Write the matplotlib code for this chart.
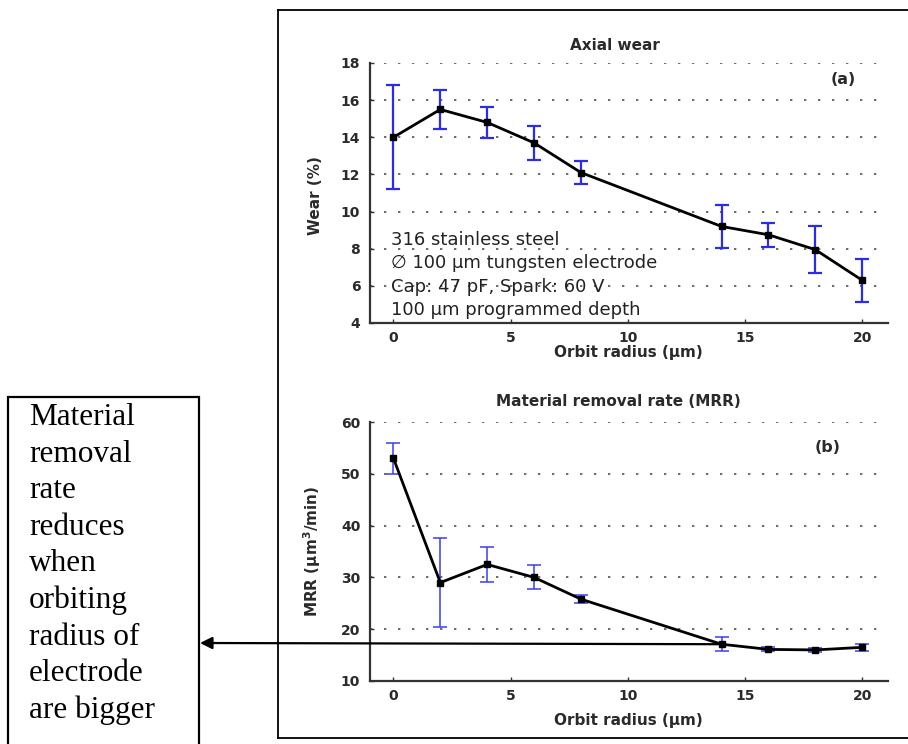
import numpy as np
import matplotlib
matplotlib.use('Agg')
import matplotlib.pyplot as plt
from matplotlib.lines import Line2D
from matplotlib.patches import Rectangle

plt.rcParams['font.family'] = ['DejaVu Sans']

# orbit radius (um) and measured values with error bars
radius = [0, 2, 4, 6, 8, 14, 16, 18, 20]
wear = [14.0, 15.5, 14.8, 13.7, 12.1, 9.2, 8.75, 7.95, 6.3]
wear_err = [2.8, 1.05, 0.85, 0.9, 0.6, 1.15, 0.65, 1.25, 1.17]
mrr = [53.0, 29.0, 32.5, 30.0, 25.8, 17.1, 16.1, 16.0, 16.5]
mrr_err = [3.0, 8.6, 3.3, 2.3, 0.8, 1.3, 0.4, 0.4, 0.7]

x_ticks = [0, 5, 10, 15, 20]
wear_ticks = [4, 6, 8, 10, 12, 14, 16, 18]
mrr_ticks = [10, 20, 30, 40, 50, 60]

info_lines = ['316 stainless steel',
              '\u2205 100 \u00b5m tungsten electrode',
              'Cap: 47 pF, Spark: 60 V',
              '100 \u00b5m programmed depth']
note_lines = ['Material', 'removal', 'rate', 'reduces', 'when',
              'orbiting', 'radius of', 'electrode', 'are bigger']

W, H = 908, 744
def fx(px): return px / W
def fy(py): return 1 - py / H

fig = plt.figure(figsize=(W / 100, H / 100), dpi=100)
fig.patch.set_facecolor('white')

ink = '#2a2a2a'
blue = '#2b2bf0'

def style_axes(ax, yticks, ylim):
    ax.set_xlim(-1, 21.1)
    ax.set_ylim(*ylim)
    ax.set_xticks(x_ticks)
    ax.set_yticks(yticks)
    for s in ['top', 'right']:
        ax.spines[s].set_visible(False)
    for s in ['left', 'bottom']:
        ax.spines[s].set_linewidth(1.6)
        ax.spines[s].set_color('#333333')
    ax.tick_params(direction='in', length=3, width=1, colors='#333333',
                   labelsize=10, labelcolor=ink)
    ax.tick_params(axis='x', pad=6)
    ax.tick_params(axis='y', pad=7)
    for lab in ax.get_xticklabels() + ax.get_yticklabels():
        lab.set_fontweight('bold')
    ax.yaxis.grid(True, linestyle=(0, (1.2, 6)), linewidth=1.4, color='#6a6a6a')
    ax.set_axisbelow(True)

# (a) axial wear
ax1 = fig.add_axes([fx(370), fy(323), fx(888) - fx(370), fy(63) - fy(323)])
style_axes(ax1, wear_ticks, (4, 18))
ax1.errorbar(radius, wear, yerr=wear_err, fmt='none', ecolor=blue,
             elinewidth=1.6, capsize=5, capthick=1.6, zorder=3)
ax1.plot(radius, wear, color='black', lw=2, marker='s', ms=4, zorder=4)
fig.text(fx(615), fy(45), 'Axial wear', ha='center', va='center',
         fontsize=11, fontweight='bold', color=ink)
fig.text(fx(628), fy(352), 'Orbit radius (\u00b5m)', ha='center', va='center',
         fontsize=11, fontweight='bold', color=ink)
fig.text(fx(316), fy(196), 'Wear (%)', rotation=90, ha='center', va='center',
         fontsize=11, fontweight='bold', color=ink)
fig.text(fx(843), fy(80), '(a)', ha='center', va='center',
         fontsize=11.5, fontweight='bold', color=ink)
for i, line in enumerate(info_lines):
    fig.text(fx(391), fy(240 + i * 23.3), line, ha='left', va='center',
             fontsize=13, color='#222222')

# (b) material removal rate
ax2 = fig.add_axes([fx(370), fy(681), fx(888) - fx(370), fy(422) - fy(681)])
style_axes(ax2, mrr_ticks, (10, 60))
ax2.errorbar(radius, mrr, yerr=mrr_err, fmt='none', ecolor='#3c3cf5',
             elinewidth=1.1, capsize=5, capthick=1.1, zorder=3)
ax2.plot(radius, mrr, color='black', lw=2, marker='s', ms=4, zorder=4)
fig.text(fx(618), fy(402), 'Material removal rate (MRR)', ha='center', va='center',
         fontsize=11, fontweight='bold', color=ink)
fig.text(fx(628), fy(720), 'Orbit radius (\u00b5m)', ha='center', va='center',
         fontsize=11, fontweight='bold', color=ink)
fig.text(fx(312), fy(551), 'MRR (\u00b5m$^\\mathbf{3}$/min)', rotation=90,
         ha='center', va='center', fontsize=11, fontweight='bold', color=ink)
fig.text(fx(828), fy(448), '(b)', ha='center', va='center',
         fontsize=11.5, fontweight='bold', color=ink)

# frame around the two plots (open on the right)
for (x0, y0, x1, y1) in [(278, 10, 278, 738), (278, 10, 908, 10), (278, 738, 908, 738)]:
    fig.add_artist(Line2D([fx(x0), fx(x1)], [fy(y0), fy(y1)], color='black',
                          lw=1.3, transform=fig.transFigure))

# note box with arrow pointing at the MRR curve
fig.add_artist(Rectangle((fx(8), fy(760)), fx(199) - fx(8), fy(397) - fy(760),
                         fill=False, edgecolor='black', lw=1.6,
                         transform=fig.transFigure, clip_on=False))
for i, word in enumerate(note_lines):
    fig.text(fx(29), fy(425 + i * 36.6), word, ha='left', va='baseline',
             fontsize=22.5, family='Liberation Serif', color='black')

ax2.annotate('', xy=(fx(200), fy(643)), xycoords='figure fraction',
             xytext=(14.1, mrr[5]), textcoords='data',
             arrowprops=dict(arrowstyle='-|>', color='black', lw=1.6,
                             mutation_scale=18, shrinkA=0, shrinkB=0),
             annotation_clip=False)

plt.savefig('out.png', dpi=100)
